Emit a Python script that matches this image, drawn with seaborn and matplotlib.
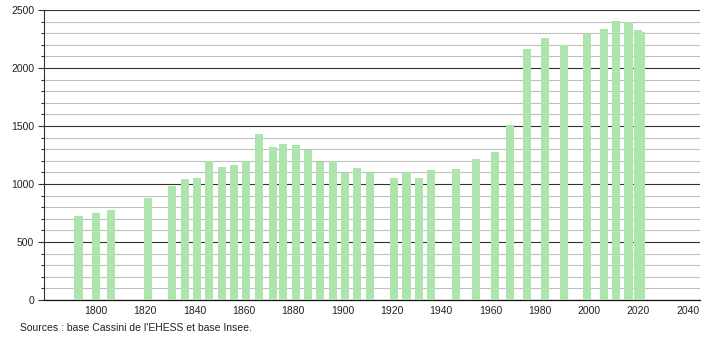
import matplotlib
matplotlib.use("Agg")
import matplotlib.pyplot as plt
import seaborn as sns
import pandas as pd
from matplotlib.ticker import MultipleLocator

years = [1793, 1800, 1806, 1821, 1831, 1836, 1841, 1846, 1851, 1856, 1861, 1866,
         1872, 1876, 1881, 1886, 1891, 1896, 1901, 1906, 1911, 1921, 1926, 1931,
         1936, 1946, 1954, 1962, 1968, 1975, 1982, 1990, 1999, 2006, 2011, 2016,
         2020, 2021]
population = [724, 753, 776, 879, 983, 1043, 1052, 1198, 1146, 1164, 1198, 1431,
              1319, 1345, 1336, 1293, 1190, 1195, 1095, 1138, 1095, 1052, 1103, 1052,
              1121, 1129, 1216, 1276, 1509, 2164, 2259, 2195, 2296, 2336, 2405, 2394,
              2328, 2310]
xticks = [1800, 1820, 1840, 1860, 1880, 1900, 1920, 1940, 1960, 1980, 2000, 2020, 2040]
yticks = [0, 500, 1000, 1500, 2000, 2500]
source = "Sources : base Cassini de l'EHESS et base Insee."

df = pd.DataFrame({"year": years, "pop": population})

sns.set_theme(style="white")
plt.rcParams['font.family'] = ['Liberation Sans', 'DejaVu Sans']

fig = plt.figure(figsize=(7.1, 3.4), dpi=100)
ax = fig.add_axes([0.062, 0.1176, 0.924, 0.853])

sns.barplot(data=df, x="year", y="pop", native_scale=True, width=3.3,
            color="#aee4ae", saturation=1, ax=ax, zorder=3, edgecolor="none")

ax.set_xlim(1779, 2045)
ax.set_ylim(0, 2500)
ax.set_xticks(xticks)
ax.set_xticklabels([str(t) for t in xticks], fontsize=7.5, color="#222222")
ax.set_yticks(yticks)
ax.set_yticklabels([str(t) for t in yticks], fontsize=7.5, color="#222222")
ax.yaxis.set_minor_locator(MultipleLocator(100))
ax.grid(False)
ax.grid(axis="y", which="minor", color="#bfbfbf", linewidth=0.8, zorder=1)
ax.grid(axis="y", which="major", color="#333333", linewidth=0.8, zorder=2)
ax.tick_params(axis="x", which="both", length=0, pad=4)
ax.tick_params(axis="y", which="major", length=4, width=0.8, color="#333333", left=True, pad=3)
ax.tick_params(axis="y", which="minor", length=2.5, width=0.8, color="#333333", left=True)
for s in ["top", "right"]:
    ax.spines[s].set_visible(False)
ax.spines["left"].set_color("#333333")
ax.spines["bottom"].set_color("#111111")
ax.spines["left"].set_linewidth(0.8)
ax.spines["bottom"].set_linewidth(0.9)
ax.set_xlabel("")
ax.set_ylabel("")

fig.text(20 / 710, 1 - 328 / 340, source, fontsize=7.5, color="#222222", va="center", ha="left")

fig.savefig("out.png", dpi=100)
